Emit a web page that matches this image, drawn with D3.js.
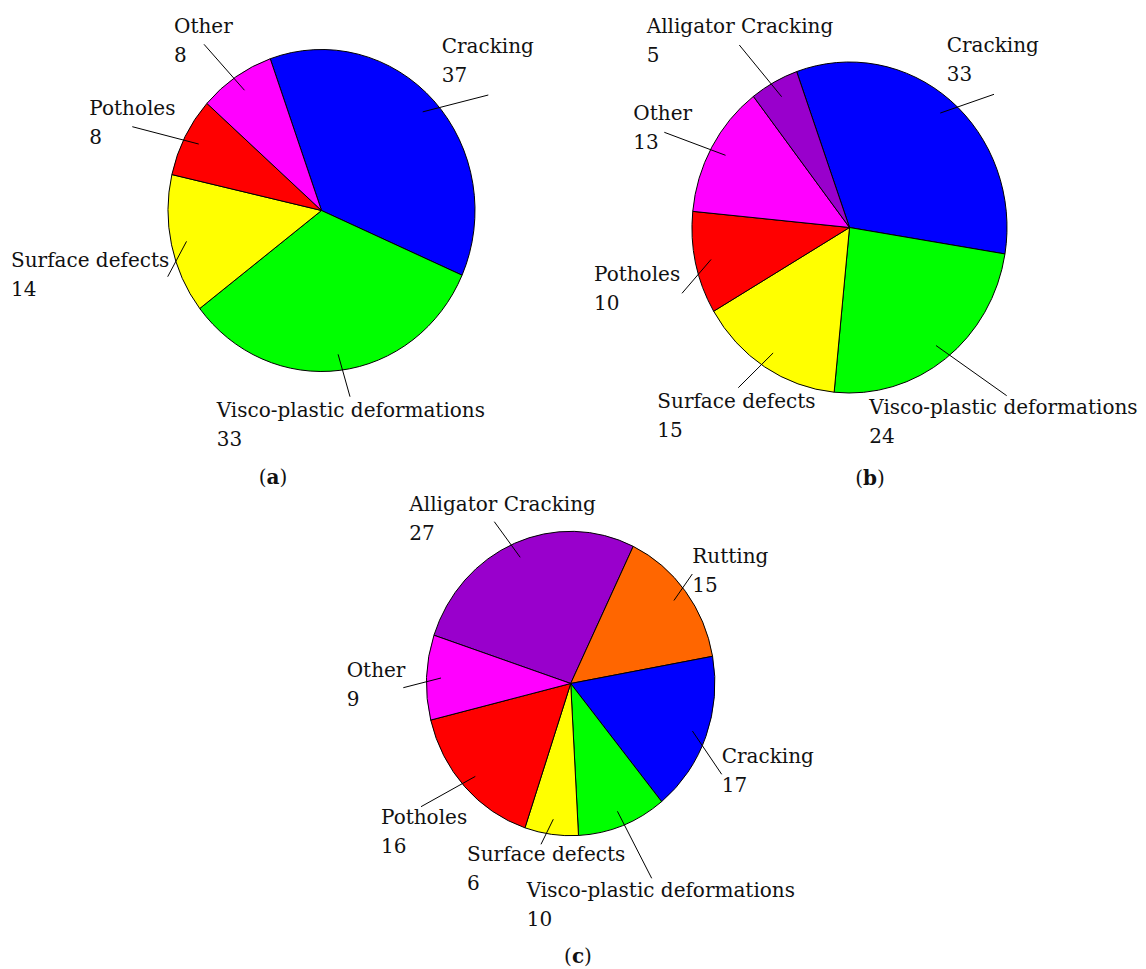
<!DOCTYPE html>
<html>
<head>
<meta charset="utf-8">
<script src="https://cdn.jsdelivr.net/npm/d3@7"></script>
<style>
  html, body { margin: 0; padding: 0; background: #fff; }
  svg text { font-family: "DejaVu Serif", "Liberation Serif", serif; font-size: 20px; fill: #111; }
</style>
</head>
<body>
<svg id="chart" width="1146" height="969"></svg>
<script>
// ---- data: distress shares (%) per survey ----
const categoriesA = ["Cracking", "Visco-plastic deformations", "Surface defects", "Potholes", "Other"];
const valuesA = [37, 33, 14, 8, 8];

const categoriesB = ["Cracking", "Visco-plastic deformations", "Surface defects", "Potholes", "Other", "Alligator Cracking"];
const valuesB = [33, 24, 15, 10, 13, 5];

const categoriesC = ["Alligator Cracking", "Rutting", "Cracking", "Visco-plastic deformations", "Surface defects", "Potholes", "Other"];
const valuesC = [27, 15, 17, 10, 6, 16, 9];

const panelLabels = ["a", "b", "c"];

// ---- styling ----
const colorOf = {
  "Cracking": "#0000ff",
  "Visco-plastic deformations": "#00ff00",
  "Surface defects": "#ffff00",
  "Potholes": "#ff0000",
  "Other": "#ff00ff",
  "Alligator Cracking": "#9900cc",
  "Rutting": "#ff6600"
};

// ---- layout: pie geometry and hand-placed label anchors (offsets from pie centre) ----
const panels = [
  {
    cats: categoriesA, vals: valuesA, cx: 321.5, cy: 210.5, rx: 153.5, ry: 161, start: -19.5,
    caption: { x: 273, y: 484 },
    labels: {
      "Cracking": { t: [120.2, -157.8], o: [166.8, -115.5] },
      "Visco-plastic deformations": { t: [-104.8, 206.2], o: [28.5, 186.2] },
      "Surface defects": { t: [-310.5, 56.2], o: [-153.8, 66.2] },
      "Potholes": { t: [-232.2, -95.5], o: [-189.2, -83.8] },
      "Other": { t: [-147.5, -177.2], o: [-117.5, -166.2] }
    }
  },
  {
    cats: categoriesB, vals: valuesB, cx: 849.5, cy: 227.5, rx: 157.5, ry: 165.5, start: -19.6,
    caption: { x: 870, y: 485 },
    labels: {
      "Cracking": { t: [97.2, -175.8], o: [144.5, -133.2] },
      "Visco-plastic deformations": { t: [19.8, 186.8], o: [157.2, 168.2] },
      "Surface defects": { t: [-192.2, 180.8], o: [-111.2, 160.2] },
      "Potholes": { t: [-255.5, 53.2], o: [-167.5, 65.8] },
      "Other": { t: [-216.2, -107.5], o: [-185.2, -95.2] },
      "Alligator Cracking": { t: [-202.8, -194.2], o: [-110.2, -182.5] }
    }
  },
  {
    cats: categoriesC, vals: valuesC, cx: 570.7, cy: 683.5, rx: 144.2, ry: 152.2, start: -71.5,
    caption: { x: 578, y: 963 },
    labels: {
      "Alligator Cracking": { t: [-161.4, -172.8], o: [-76.4, -161.8] },
      "Rutting": { t: [121.6, -120.2], o: [121.6, -109.5] },
      "Cracking": { t: [151, 79.8], o: [151, 90.8] },
      "Visco-plastic deformations": { t: [-44, 213.2], o: [81, 194.8] },
      "Surface defects": { t: [-103.7, 177.5], o: [-29.7, 160.8] },
      "Potholes": { t: [-189.7, 140.8], o: [-149.7, 123.2] },
      "Other": { t: [-224, -6.8], o: [-167.4, 4.2] }
    }
  }
];

const lineGap = 29;
const rad = deg => deg * Math.PI / 180;
const svg = d3.select("#chart");

panels.forEach((p, idx) => {
  const rows = p.cats.map((c, i) => ({ cat: c, val: p.vals[i] }));
  const pie = d3.pie().sort(null).value(d => d.val)
    .startAngle(rad(p.start)).endAngle(rad(p.start + 360));
  const arcs = pie(rows);
  const k = p.ry / p.rx;   // slight vertical stretch of the disc

  const g = svg.append("g").attr("transform", `translate(${p.cx},${p.cy})`);

  const disc = g.append("g").attr("transform", `scale(1,${k})`);
  const arc = d3.arc().innerRadius(0).outerRadius(p.rx);
  disc.selectAll("path").data(arcs).join("path")
    .attr("d", arc)
    .attr("fill", d => colorOf[d.data.cat])
    .attr("stroke", "#000")
    .attr("stroke-width", 1)
    .attr("vector-effect", "non-scaling-stroke");

  // leader lines: from 90% radius at slice middle to the label
  const inner = d3.arc().innerRadius(p.rx * 0.9).outerRadius(p.rx * 0.9);
  g.selectAll("line.leader").data(arcs).join("line")
    .attr("class", "leader")
    .attr("x1", d => inner.centroid(d)[0])
    .attr("y1", d => inner.centroid(d)[1] * k)
    .attr("x2", d => p.labels[d.data.cat].o[0])
    .attr("y2", d => p.labels[d.data.cat].o[1])
    .attr("stroke", "#000")
    .attr("stroke-width", 1);

  const lbl = g.selectAll("text.lbl").data(arcs).join("text")
    .attr("class", "lbl")
    .attr("x", d => p.labels[d.data.cat].t[0])
    .attr("y", d => p.labels[d.data.cat].t[1]);
  lbl.append("tspan").text(d => d.data.cat);
  lbl.append("tspan")
    .attr("x", d => p.labels[d.data.cat].t[0])
    .attr("dy", lineGap)
    .text(d => d.data.val);

  const cap = svg.append("text")
    .attr("x", p.caption.x).attr("y", p.caption.y)
    .attr("text-anchor", "middle");
  cap.append("tspan").text("(");
  cap.append("tspan").attr("font-weight", "bold").text(panelLabels[idx]);
  cap.append("tspan").text(")");
});
</script>
</body>
</html>
